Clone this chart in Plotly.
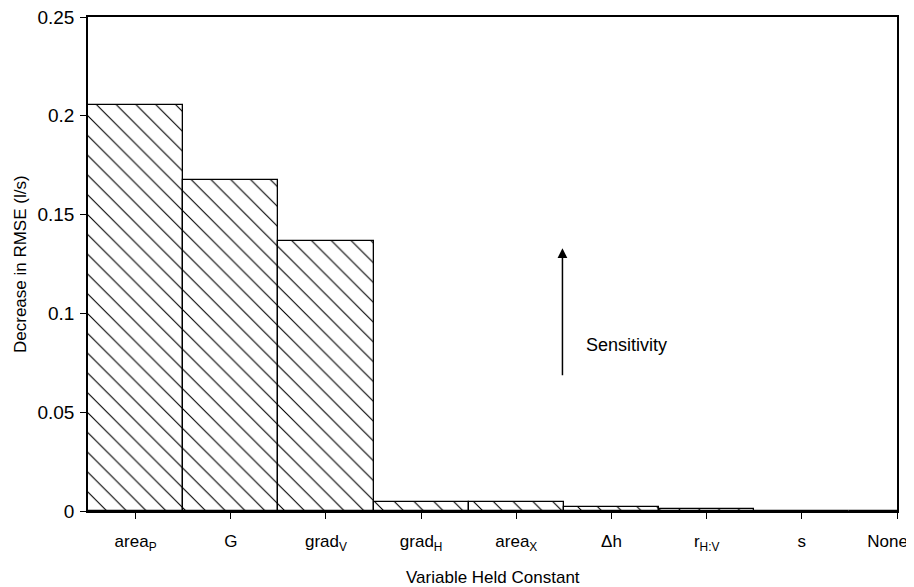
import plotly.graph_objects as go

categories = ["area<sub>P</sub>", "G", "grad<sub>V</sub>", "grad<sub>H</sub>", "area<sub>X</sub>",
              "Δh", "r<sub>H:V</sub>", "s", "None"]
decrease_rmse = [0.2055, 0.1675, 0.1365, 0.0046, 0.0048, 0.0020, 0.0012, 0.0001, 0.0]
x_tick_labels = ["area<sub>P</sub>", "G", "grad<sub>V</sub>", "grad<sub>H</sub>", "area<sub>X</sub>",
                 "Δh", "r<sub>H:V</sub>", "s", "None\u00a0\u00a0\u00a0\u00a0"]
y_ticks = [0, 0.05, 0.1, 0.15, 0.2, 0.25]
y_tick_labels = ["0", "0.05", "0.1", "0.15", "0.2", "0.25"]

FONT = "Liberation Sans, Arial, sans-serif"

fig = go.Figure()
fig.add_trace(go.Bar(
    x=categories, y=decrease_rmse, width=1.0,
    marker=dict(color="white", line=dict(color="black", width=1.3),
                pattern=dict(shape="\\", size=14, solidity=0.08, fgcolor="black", bgcolor="white")),
    showlegend=False,
))

# page body has an 8px default margin, so the figure is sized to fit the window
fig.update_layout(
    template="none",
    width=906, height=579,
    margin=dict(l=80, r=17, t=9, b=76),
    paper_bgcolor="white", plot_bgcolor="white",
    font=dict(family=FONT, size=17, color="black"),
    bargap=0,
    xaxis=dict(type="category", range=[-0.5, 8], showgrid=False, automargin=False,
               showline=True, linecolor="black", linewidth=1.5, mirror=True,
               ticks="outside", ticklen=6, tickcolor="black", tickwidth=1.3,
               tickvals=categories, ticktext=x_tick_labels,
               ticklabelstandoff=8, tickfont=dict(size=17), ticklabeloverflow="allow"),
    yaxis=dict(range=[0, 0.25], showgrid=False, zeroline=False, automargin=False,
               showline=True, linecolor="black", linewidth=1.5, mirror=True,
               ticks="outside", ticklen=6, tickcolor="black", tickwidth=1.3,
               tickvals=y_ticks, ticktext=y_tick_labels, tickfont=dict(size=19),
               ticklabelstandoff=2, ticklabeloverflow="allow"),
)

fig.add_annotation(x=0.5, y=0, xref="paper", yref="paper", yshift=-66, yanchor="middle",
                   text="Variable Held Constant", showarrow=False, font=dict(size=17))
fig.add_annotation(x=0, y=0.5, xref="paper", yref="paper", xshift=-68, xanchor="center",
                   text="Decrease in RMSE (l/s)", textangle=-90, showarrow=False, font=dict(size=17))

fig.add_annotation(x=4.485, y=0.133, ax=4.485, ay=0.068, xref="x", yref="y", axref="x", ayref="y",
                   text="", showarrow=True, arrowhead=2, arrowsize=1.3, arrowwidth=1.5, arrowcolor="black")
fig.add_annotation(x=4.71, y=0.084, xref="x", yref="y", text="Sensitivity", showarrow=False,
                   xanchor="left", font=dict(size=18))

fig.write_html("out.html")
